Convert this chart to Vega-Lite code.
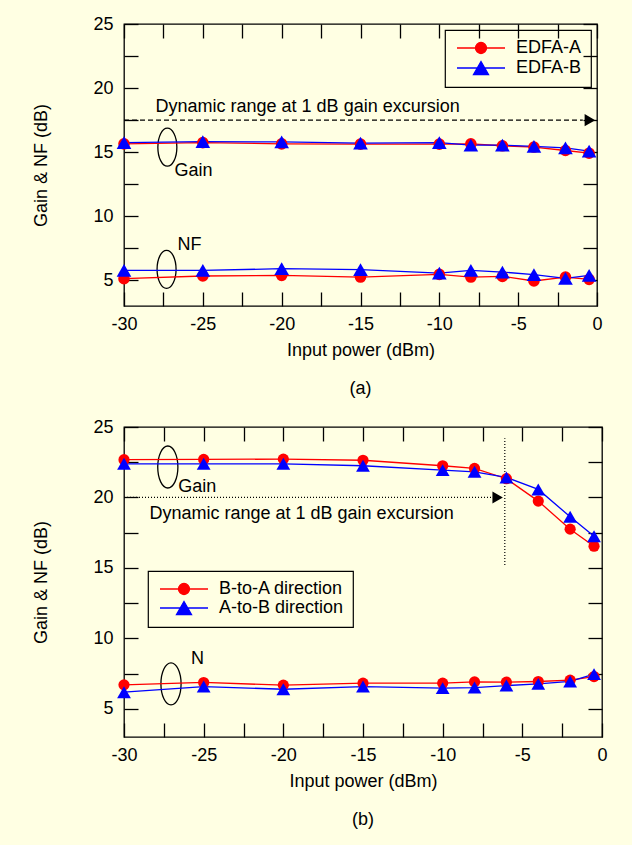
{
  "$schema": "https://vega.github.io/schema/vega-lite/v6.json",
  "background": "#FFFFE3",
  "padding": {"left": 32, "top": 14, "right": 24, "bottom": 18},
  "spacing": 18,
  "config": {
    "font": "Liberation Sans",
    "view": {"stroke": "black", "strokeWidth": 1.3},
    "axis": {
      "labelFont": "Liberation Sans", "labelFontSize": 18, "labelColor": "black",
      "titleFont": "Liberation Sans", "titleFontSize": 18, "titleFontWeight": "normal", "titleColor": "black",
      "tickColor": "black", "tickWidth": 1.3, "domain": false, "grid": false, "ticks": true,
      "labelFlush": false, "labelOverlap": false, "tickSize": -14
    },
    "legend": {"strokeColor": "black", "strokeWidth": 1.2},
    "title": {"font": "Liberation Sans", "fontSize": 18, "fontWeight": "normal", "color": "black"},
    "text": {"font": "Liberation Sans", "fontSize": 18, "color": "black"}
  },
  "datasets": {
    "a": [
      {"series": "EDFA-A", "kind": "gain", "x": -30, "y": 15.65},
      {"series": "EDFA-A", "kind": "gain", "x": -25, "y": 15.75},
      {"series": "EDFA-A", "kind": "gain", "x": -20, "y": 15.65},
      {"series": "EDFA-A", "kind": "gain", "x": -15, "y": 15.63},
      {"series": "EDFA-A", "kind": "gain", "x": -10, "y": 15.63},
      {"series": "EDFA-A", "kind": "gain", "x": -8, "y": 15.65},
      {"series": "EDFA-A", "kind": "gain", "x": -6, "y": 15.5},
      {"series": "EDFA-A", "kind": "gain", "x": -4, "y": 15.4},
      {"series": "EDFA-A", "kind": "gain", "x": -2, "y": 15.13},
      {"series": "EDFA-A", "kind": "gain", "x": -0.5, "y": 14.92},
      {"series": "EDFA-A", "kind": "nf", "x": -30, "y": 5.13},
      {"series": "EDFA-A", "kind": "nf", "x": -25, "y": 5.34},
      {"series": "EDFA-A", "kind": "nf", "x": -20, "y": 5.39},
      {"series": "EDFA-A", "kind": "nf", "x": -15, "y": 5.26},
      {"series": "EDFA-A", "kind": "nf", "x": -10, "y": 5.47},
      {"series": "EDFA-A", "kind": "nf", "x": -8, "y": 5.26},
      {"series": "EDFA-A", "kind": "nf", "x": -6, "y": 5.31},
      {"series": "EDFA-A", "kind": "nf", "x": -4, "y": 4.95},
      {"series": "EDFA-A", "kind": "nf", "x": -2, "y": 5.26},
      {"series": "EDFA-A", "kind": "nf", "x": -0.5, "y": 5.08},
      {"series": "EDFA-B", "kind": "gain", "x": -30, "y": 15.75},
      {"series": "EDFA-B", "kind": "gain", "x": -25, "y": 15.83},
      {"series": "EDFA-B", "kind": "gain", "x": -20, "y": 15.8},
      {"series": "EDFA-B", "kind": "gain", "x": -15, "y": 15.7},
      {"series": "EDFA-B", "kind": "gain", "x": -10, "y": 15.75},
      {"series": "EDFA-B", "kind": "gain", "x": -8, "y": 15.55},
      {"series": "EDFA-B", "kind": "gain", "x": -6, "y": 15.55},
      {"series": "EDFA-B", "kind": "gain", "x": -4, "y": 15.45},
      {"series": "EDFA-B", "kind": "gain", "x": -2, "y": 15.34},
      {"series": "EDFA-B", "kind": "gain", "x": -0.5, "y": 15.08},
      {"series": "EDFA-B", "kind": "nf", "x": -30, "y": 5.78},
      {"series": "EDFA-B", "kind": "nf", "x": -25, "y": 5.78},
      {"series": "EDFA-B", "kind": "nf", "x": -20, "y": 5.91},
      {"series": "EDFA-B", "kind": "nf", "x": -15, "y": 5.84},
      {"series": "EDFA-B", "kind": "nf", "x": -10, "y": 5.57},
      {"series": "EDFA-B", "kind": "nf", "x": -8, "y": 5.78},
      {"series": "EDFA-B", "kind": "nf", "x": -6, "y": 5.65},
      {"series": "EDFA-B", "kind": "nf", "x": -4, "y": 5.44},
      {"series": "EDFA-B", "kind": "nf", "x": -2, "y": 5.16},
      {"series": "EDFA-B", "kind": "nf", "x": -0.5, "y": 5.39}
    ],
    "b": [
      {"series": "B-to-A direction", "kind": "gain", "x": -30, "y": 22.68},
      {"series": "B-to-A direction", "kind": "gain", "x": -25, "y": 22.7},
      {"series": "B-to-A direction", "kind": "gain", "x": -20, "y": 22.72},
      {"series": "B-to-A direction", "kind": "gain", "x": -15, "y": 22.64},
      {"series": "B-to-A direction", "kind": "gain", "x": -10, "y": 22.25},
      {"series": "B-to-A direction", "kind": "gain", "x": -8, "y": 22.06},
      {"series": "B-to-A direction", "kind": "gain", "x": -6, "y": 21.33},
      {"series": "B-to-A direction", "kind": "gain", "x": -4, "y": 19.74},
      {"series": "B-to-A direction", "kind": "gain", "x": -2, "y": 17.75},
      {"series": "B-to-A direction", "kind": "gain", "x": -0.5, "y": 16.54},
      {"series": "B-to-A direction", "kind": "nf", "x": -30, "y": 6.7},
      {"series": "B-to-A direction", "kind": "nf", "x": -25, "y": 6.87},
      {"series": "B-to-A direction", "kind": "nf", "x": -20, "y": 6.68},
      {"series": "B-to-A direction", "kind": "nf", "x": -15, "y": 6.82},
      {"series": "B-to-A direction", "kind": "nf", "x": -10, "y": 6.82},
      {"series": "B-to-A direction", "kind": "nf", "x": -8, "y": 6.91},
      {"series": "B-to-A direction", "kind": "nf", "x": -6, "y": 6.89},
      {"series": "B-to-A direction", "kind": "nf", "x": -4, "y": 6.94},
      {"series": "B-to-A direction", "kind": "nf", "x": -2, "y": 7.03},
      {"series": "B-to-A direction", "kind": "nf", "x": -0.5, "y": 7.29},
      {"series": "A-to-B direction", "kind": "gain", "x": -30, "y": 22.39},
      {"series": "A-to-B direction", "kind": "gain", "x": -25, "y": 22.39},
      {"series": "A-to-B direction", "kind": "gain", "x": -20, "y": 22.39},
      {"series": "A-to-B direction", "kind": "gain", "x": -15, "y": 22.25},
      {"series": "A-to-B direction", "kind": "gain", "x": -10, "y": 21.94},
      {"series": "A-to-B direction", "kind": "gain", "x": -8, "y": 21.82},
      {"series": "A-to-B direction", "kind": "gain", "x": -6, "y": 21.42},
      {"series": "A-to-B direction", "kind": "gain", "x": -4, "y": 20.57},
      {"series": "A-to-B direction", "kind": "gain", "x": -2, "y": 18.63},
      {"series": "A-to-B direction", "kind": "gain", "x": -0.5, "y": 17.25},
      {"series": "A-to-B direction", "kind": "nf", "x": -30, "y": 6.18},
      {"series": "A-to-B direction", "kind": "nf", "x": -25, "y": 6.58},
      {"series": "A-to-B direction", "kind": "nf", "x": -20, "y": 6.39},
      {"series": "A-to-B direction", "kind": "nf", "x": -15, "y": 6.58},
      {"series": "A-to-B direction", "kind": "nf", "x": -10, "y": 6.47},
      {"series": "A-to-B direction", "kind": "nf", "x": -8, "y": 6.51},
      {"series": "A-to-B direction", "kind": "nf", "x": -6, "y": 6.65},
      {"series": "A-to-B direction", "kind": "nf", "x": -4, "y": 6.77},
      {"series": "A-to-B direction", "kind": "nf", "x": -2, "y": 6.94},
      {"series": "A-to-B direction", "kind": "nf", "x": -0.5, "y": 7.46}
    ]
  },
  "vconcat": [
    {
      "width": 473,
      "height": 282,
      "title": {"text": "(a)", "orient": "bottom", "offset": 21},
      "layer": [
        {
          "encoding": {
            "x": {"field": "x", "type": "quantitative", "scale": {"domain": [-30, 0], "nice": false, "zero": false},
              "axis": {"orient": "bottom", "values": [-30, -27.5, -25, -22.5, -20, -17.5, -15, -12.5, -10, -7.5, -5, -2.5, 0],
                "labelExpr": "datum.value % 5 === 0 ? toString(datum.value) : ''", "labelPadding": 23,
                "title": "Input power (dBm)", "titlePadding": 8,
                "encode": {"ticks": {"update": {"y2": {"signal": "datum.value % 5 === 0 ? -14 : -7"}}}}}},
            "y": {"field": "y", "type": "quantitative", "scale": {"domain": [3, 25], "nice": false, "zero": false},
              "axis": {"orient": "left", "values": [5, 7.5, 10, 12.5, 15, 17.5, 20, 22.5, 25],
                "labelExpr": "datum.value % 5 === 0 ? toString(datum.value) : ''", "labelPadding": 25,
                "title": "Gain & NF (dB)", "titlePadding": 42,
                "encode": {"ticks": {"update": {"x2": {"signal": "datum.value % 5 === 0 ? 14 : 7"}}}}}}
          },
          "layer": [
            {
              "data": {"values": [{"x": -30, "x2": -0.9, "y": 17.5}]},
              "mark": {"type": "rule", "color": "black", "strokeWidth": 1.2, "strokeDash": [5, 3]},
              "encoding": {"x2": {"field": "x2"}}
            },
            {
              "data": {"values": [{"x": -0.45, "y": 17.5}]},
              "mark": {"type": "point", "shape": "triangle-right", "size": 150, "filled": true, "color": "black", "opacity": 1}
            },
            {
              "data": {"values": [{"x": -27.25, "y": 15.39}, {"x": -27.3, "y": 5.86}]},
              "mark": {"type": "point", "shape": "M0,-1A0.5,1,0,1,1,0,1A0.5,1,0,1,1,0,-1Z", "size": 1444, "filled": false, "color": "black", "strokeWidth": 1.3, "opacity": 1}
            },
            {
              "data": {"values": [
                {"x": -28, "y": 18.5, "label": "Dynamic range at 1 dB gain excursion"},
                {"x": -26.8, "y": 13.5, "label": "Gain"},
                {"x": -26.6, "y": 7.73, "label": "NF"}
              ]},
              "mark": {"type": "text", "align": "left", "baseline": "middle"},
              "encoding": {"text": {"field": "label"}}
            },
            {
              "data": {"name": "a"},
              "mark": {"type": "line", "strokeWidth": 1.3},
              "encoding": {
                "color": {"field": "series", "type": "nominal", "scale": {"domain": ["EDFA-A", "EDFA-B"], "range": ["#FF0000", "#0000FF"]},
                  "legend": {"title": null, "orient": "top-right", "offset": 6, "padding": 9, "strokeColor": "black", "labelFontSize": 18, "labelFont": "Liberation Sans", "labelColor": "black", "symbolSize": 144, "symbolOffset": 18, "labelOffset": 26, "rowPadding": 1, "labelExpr": "datum.label + '   '",
                    "encode": {"symbols": {"update": {
                      "shape": {"signal": "datum.value === 'EDFA-A' ? 'M-4,0L4,0M-0.92,0A0.92,0.92,0,1,1,0.92,0A0.92,0.92,0,1,1,-0.92,0Z' : 'M-4,0L4,0M0,-1.08L1.25,1.08L-1.25,1.08Z'"},
                      "stroke": {"signal": "datum.value === 'EDFA-A' ? '#FF0000' : '#0000FF'"},
                      "fill": {"signal": "datum.value === 'EDFA-A' ? '#FF0000' : '#0000FF'"},
                      "strokeWidth": {"value": 1.3}, "opacity": {"value": 1}, "fillOpacity": {"value": 1}, "strokeOpacity": {"value": 1}}}}}},
                "detail": {"field": "kind"}
              }
            },
            {
              "data": {"name": "a"},
              "transform": [{"filter": "datum.series === 'EDFA-A'"}],
              "mark": {"type": "point", "filled": true, "opacity": 1, "shape": "circle", "size": 135, "color": "#FF0000"}
            },
            {
              "data": {"name": "a"},
              "transform": [{"filter": "datum.series === 'EDFA-B'"}],
              "mark": {"type": "point", "filled": true, "opacity": 1, "shape": "triangle-up", "size": 215, "color": "#0000FF"}
            }
          ]
        },
        {
          "data": {"values": [{"x": -30, "y": 3}]},
          "mark": {"type": "point", "opacity": 0},
          "encoding": {
            "x": {"field": "x", "type": "quantitative", "scale": {"domain": [-30, 0], "nice": false, "zero": false},
              "axis": {"orient": "top", "values": [-30, -27.5, -25, -22.5, -20, -17.5, -15, -12.5, -10, -7.5, -5, -2.5, 0], "labels": false, "title": null, "minExtent": 0,
                "encode": {"ticks": {"update": {"y2": {"signal": "datum.value % 5 === 0 ? 14 : 7"}}}}}},
            "y": {"field": "y", "type": "quantitative", "scale": {"domain": [3, 25], "nice": false, "zero": false},
              "axis": {"orient": "right", "values": [5, 7.5, 10, 12.5, 15, 17.5, 20, 22.5, 25], "labels": false, "title": null, "minExtent": 0,
                "encode": {"ticks": {"update": {"x2": {"signal": "datum.value % 5 === 0 ? -14 : -7"}}}}}}
          }
        }
      ],
      "resolve": {"axis": {"x": "independent", "y": "independent"}}
    },
    {
      "width": 478,
      "height": 310,
      "title": {"text": "(b)", "orient": "bottom", "offset": 21},
      "layer": [
        {
          "encoding": {
            "x": {"field": "x", "type": "quantitative", "scale": {"domain": [-30, 0], "nice": false, "zero": false},
              "axis": {"orient": "bottom", "values": [-30, -27.5, -25, -22.5, -20, -17.5, -15, -12.5, -10, -7.5, -5, -2.5, 0],
                "labelExpr": "datum.value % 5 === 0 ? toString(datum.value) : ''", "labelPadding": 23,
                "title": "Input power (dBm)", "titlePadding": 8,
                "encode": {"ticks": {"update": {"y2": {"signal": "datum.value % 5 === 0 ? -14 : -7"}}}}}},
            "y": {"field": "y", "type": "quantitative", "scale": {"domain": [3, 25], "nice": false, "zero": false},
              "axis": {"orient": "left", "values": [5, 7.5, 10, 12.5, 15, 17.5, 20, 22.5, 25],
                "labelExpr": "datum.value % 5 === 0 ? toString(datum.value) : ''", "labelPadding": 25,
                "title": "Gain & NF (dB)", "titlePadding": 42,
                "encode": {"ticks": {"update": {"x2": {"signal": "datum.value % 5 === 0 ? 14 : 7"}}}}}}
          },
          "layer": [
            {
              "data": {"values": [{"x": -30, "x2": -6.9, "y": 20}]},
              "mark": {"type": "rule", "color": "black", "strokeWidth": 1.2, "strokeDash": [1, 2]},
              "encoding": {"x2": {"field": "x2"}}
            },
            {
              "data": {"values": [{"x": -6.1, "y": 15.2, "y2": 24.2}]},
              "mark": {"type": "rule", "color": "black", "strokeWidth": 1.2, "strokeDash": [1, 2]},
              "encoding": {"y2": {"field": "y2"}}
            },
            {
              "data": {"values": [{"x": -6.55, "y": 20}]},
              "mark": {"type": "point", "shape": "triangle-right", "size": 145, "filled": true, "color": "black", "opacity": 1}
            },
            {
              "data": {"values": [{"x": -27.25, "y": 22.16}, {"x": -27.05, "y": 6.77}]},
              "mark": {"type": "point", "shape": "M0,-1A0.48,1,0,1,1,0,1A0.48,1,0,1,1,0,-1Z", "size": 1764, "filled": false, "color": "black", "strokeWidth": 1.3, "opacity": 1}
            },
            {
              "data": {"values": [
                {"x": -28.4, "y": 18.8, "label": "Dynamic range at 1 dB gain excursion"},
                {"x": -26.6, "y": 20.75, "label": "Gain"},
                {"x": -25.8, "y": 8.55, "label": "N"}
              ]},
              "mark": {"type": "text", "align": "left", "baseline": "middle"},
              "encoding": {"text": {"field": "label"}}
            },
            {
              "data": {"name": "b"},
              "mark": {"type": "line", "strokeWidth": 1.3},
              "encoding": {
                "color": {"field": "series", "type": "nominal", "scale": {"domain": ["B-to-A direction", "A-to-B direction"], "range": ["#FF0000", "#0000FF"]},
                  "legend": {"title": null, "orient": "none", "legendX": 24, "legendY": 144, "padding": 9, "strokeColor": "black", "labelFontSize": 18, "labelFont": "Liberation Sans", "labelColor": "black", "symbolSize": 144, "symbolOffset": 18, "labelOffset": 26, "rowPadding": 0,
                    "encode": {"symbols": {"update": {
                      "shape": {"signal": "datum.value === 'B-to-A direction' ? 'M-4,0L4,0M-0.92,0A0.92,0.92,0,1,1,0.92,0A0.92,0.92,0,1,1,-0.92,0Z' : 'M-4,0L4,0M0,-1.08L1.25,1.08L-1.25,1.08Z'"},
                      "stroke": {"signal": "datum.value === 'B-to-A direction' ? '#FF0000' : '#0000FF'"},
                      "fill": {"signal": "datum.value === 'B-to-A direction' ? '#FF0000' : '#0000FF'"},
                      "strokeWidth": {"value": 1.3}, "opacity": {"value": 1}, "fillOpacity": {"value": 1}, "strokeOpacity": {"value": 1}}}}}},
                "detail": {"field": "kind"}
              }
            },
            {
              "data": {"name": "b"},
              "transform": [{"filter": "datum.series === 'B-to-A direction'"}],
              "mark": {"type": "point", "filled": true, "opacity": 1, "shape": "circle", "size": 125, "color": "#FF0000"}
            },
            {
              "data": {"name": "b"},
              "transform": [{"filter": "datum.series === 'A-to-B direction'"}],
              "mark": {"type": "point", "filled": true, "opacity": 1, "shape": "triangle-up", "size": 190, "color": "#0000FF"}
            }
          ]
        },
        {
          "data": {"values": [{"x": -30, "y": 3}]},
          "mark": {"type": "point", "opacity": 0},
          "encoding": {
            "x": {"field": "x", "type": "quantitative", "scale": {"domain": [-30, 0], "nice": false, "zero": false},
              "axis": {"orient": "top", "values": [-30, -27.5, -25, -22.5, -20, -17.5, -15, -12.5, -10, -7.5, -5, -2.5, 0], "labels": false, "title": null, "minExtent": 0,
                "encode": {"ticks": {"update": {"y2": {"signal": "datum.value % 5 === 0 ? 14 : 7"}}}}}},
            "y": {"field": "y", "type": "quantitative", "scale": {"domain": [3, 25], "nice": false, "zero": false},
              "axis": {"orient": "right", "values": [5, 7.5, 10, 12.5, 15, 17.5, 20, 22.5, 25], "labels": false, "title": null, "minExtent": 0,
                "encode": {"ticks": {"update": {"x2": {"signal": "datum.value % 5 === 0 ? -14 : -7"}}}}}}
          }
        }
      ],
      "resolve": {"axis": {"x": "independent", "y": "independent"}}
    }
  ],
  "resolve": {"scale": {"color": "independent"}}
}
